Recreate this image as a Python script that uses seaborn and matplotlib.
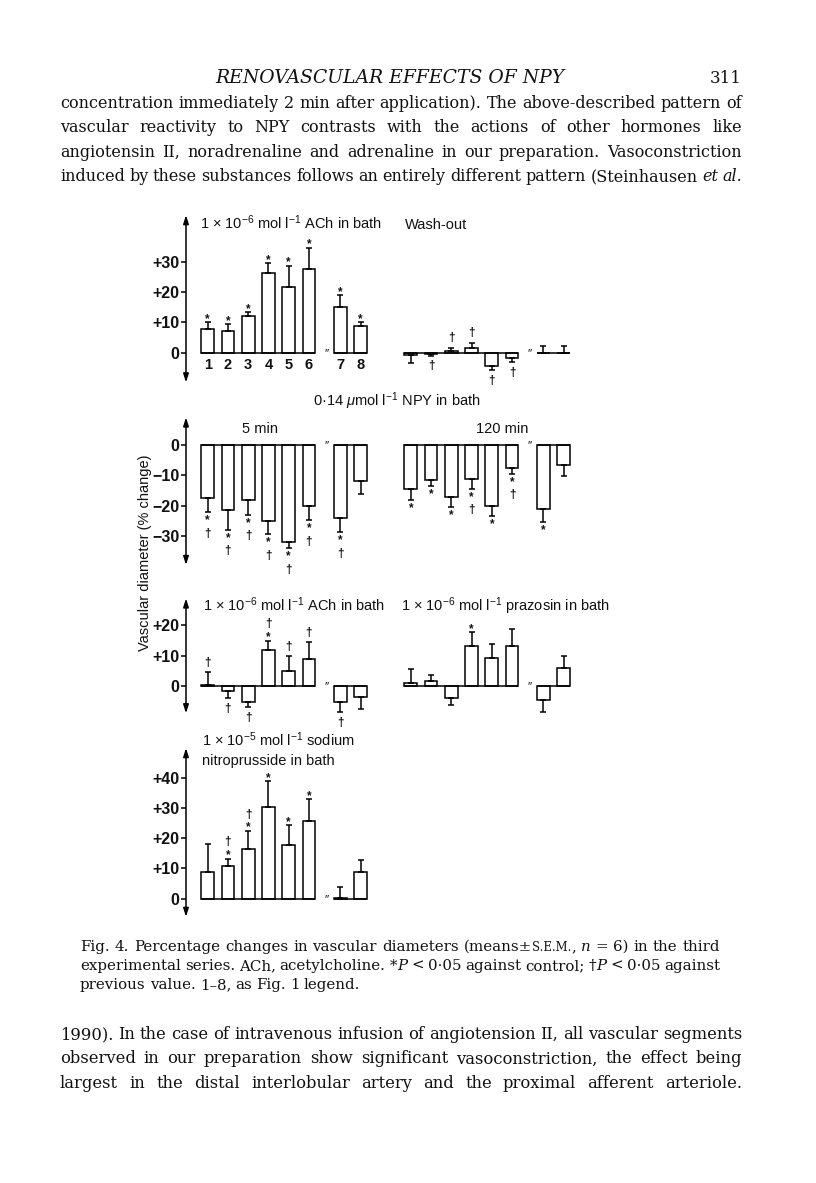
import matplotlib
matplotlib.use("Agg")
import matplotlib.pyplot as plt
from matplotlib.patches import ArrowStyle
import seaborn as sns
import pandas as pd

# values: % change of vascular diameter, mean and s.e.m.
segments = ["1", "2", "3", "4", "5", "6", "7", "8"]

ach_mean = [7.7, 7.2, 12.1, 26.2, 21.6, 27.7, 15.1, 8.9]
ach_sem = [2.3, 2.3, 1.3, 3.3, 7.1, 7.0, 3.9, 1.1]
ach_marks = ["*", "*", "*", "*", "*", "*", "*", "*"]

wash_mean = [-0.9, -0.4, 0.5, 1.7, -4.3, -1.9, 0.0, 0.0]
wash_sem = [2.4, 0.6, 1.1, 1.6, 1.4, 1.3, 2.3, 2.3]
wash_marks = ["", "†", "†", "†", "†", "†", "", ""]

npy5_mean = [-17.6, -21.6, -18.0, -25.1, -32.0, -20.0, -24.1, -12.0]
npy5_sem = [4.6, 6.4, 5.1, 4.4, 2.1, 4.9, 4.7, 4.2]
npy5_marks = ["*†", "*†", "*†", "*†", "*†", "*†", "*†", ""]

npy120_mean = [-14.5, -11.6, -17.1, -11.2, -20.2, -7.6, -21.1, -6.7]
npy120_sem = [3.7, 1.8, 3.5, 3.3, 3.1, 2.0, 4.2, 3.5]
npy120_marks = ["*", "*", "*", "*†", "*", "*†", "*", ""]

ach2_mean = [0.3, -1.5, -5.2, 11.9, 5.0, 8.9, -5.2, -3.7]
ach2_sem = [4.2, 2.6, 1.8, 3.1, 4.9, 5.5, 3.5, 3.9]
ach2_marks = ["†", "†", "†", "*†", "†", "†", "†", ""]

praz_mean = [0.9, 1.6, -4.0, 13.1, 9.1, 13.1, -4.7, 6.0]
praz_sem = [4.7, 2.1, 2.3, 4.6, 4.9, 5.6, 4.0, 3.9]
praz_marks = ["", "", "", "*", "", "", "", ""]

snp_mean = [8.9, 10.9, 16.4, 30.4, 17.7, 25.7, 0.3, 8.7]
snp_sem = [9.1, 2.3, 6.0, 8.3, 6.6, 7.1, 3.5, 4.1]
snp_marks = ["", "*†", "*†", "*", "*", "*", "", ""]

# page text
header = "RENOVASCULAR EFFECTS OF NPY"
page_no = "311"
body_top = [
    "concentration immediately 2 min after application). The above-described pattern of",
    "vascular reactivity to NPY contrasts with the actions of other hormones like",
    "angiotensin II, noradrenaline and adrenaline in our preparation. Vasoconstriction",
    "induced by these substances follows an entirely different pattern (Steinhausen _et al._",
]
caption = [
    "Fig. 4. Percentage changes in vascular diameters (means±^s.e.m.^, _n_ = 6) in the third",
    "experimental series. ACh, acetylcholine. *_P_ < 0·05 against control; †_P_ < 0·05 against",
    "previous value. 1–8, as Fig. 1 legend.",
]
body_bottom = [
    "1990). In the case of intravenous infusion of angiotension II, all vascular segments",
    "observed in our preparation show significant vasoconstriction, the effect being",
    "largest in the distal interlobular artery and the proximal afferent arteriole.",
]

# layout (pixels of the 816 x 1183 page)
W, H = 816, 1183
SLOT = 20.25
PPU = 3.03
AX_LEFT, AX_RIGHT = 186, 620
OFFSETS = [0, 1, 2, 3, 4, 5, 6.55, 7.55]
LEFT_START, RIGHT_START = 1.07, 11.1
BAR_W = 0.627
LW = 1.1
INK = "#111111"

sns.set_theme(style="white")
plt.rcParams["font.family"] = ["Liberation Sans", "DejaVu Sans"]
plt.rcParams["mathtext.fontset"] = "custom"
plt.rcParams["mathtext.rm"] = "Liberation Sans"
plt.rcParams["mathtext.it"] = "Liberation Sans:italic"
plt.rcParams["mathtext.bf"] = "Liberation Sans:bold"
plt.rcParams["text.color"] = INK

fig = plt.figure(figsize=(W / 100, H / 100), dpi=100)
fig.patch.set_facecolor("white")


def ptext(x, y, s, **kw):
    kw.setdefault("fontsize", 10.5)
    return fig.text(x / W, 1 - y / H, s, **kw)


def make_row(zero_px, ylo, yhi):
    top = zero_px - yhi * PPU
    bot = zero_px - ylo * PPU
    ax = fig.add_axes([AX_LEFT / W, 1 - bot / H, (AX_RIGHT - AX_LEFT) / W, (bot - top) / H])
    ax.set_facecolor("none")
    return ax


def finish_row(ax, ylo, yhi, ticks, labels):
    ax.set_xlim(0, (AX_RIGHT - AX_LEFT) / SLOT)
    ax.set_ylim(ylo, yhi)
    for sp in ax.spines.values():
        sp.set_visible(False)
    ax.set_xticks([])
    ax.set_xlabel("")
    ax.set_ylabel("")
    ax.set_yticks(ticks, labels, fontsize=11.5, fontweight="bold")
    ax.tick_params(axis="y", left=True, direction="out", length=3.6, width=LW,
                   pad=1, color="black", labelcolor=INK)
    ax.annotate("", xy=(0, yhi), xytext=(0, ylo),
                arrowprops=dict(arrowstyle=ArrowStyle("<|-|>", head_length=0.5, head_width=0.16),
                                mutation_scale=10, lw=LW, color="black", shrinkA=0, shrinkB=0),
                annotation_clip=False)


def draw_group(ax, start, mean, sem, marks, numbers=False):
    pos = [start + o for o in OFFSETS]
    df = pd.DataFrame({"pos": pos, "change": mean})
    sns.barplot(data=df, x="pos", y="change", native_scale=True, orient="x", width=BAR_W,
                color="white", edgecolor="black", linewidth=LW, errorbar=None, ax=ax)
    lower = [s if m < 0 else 0 for m, s in zip(mean, sem)]
    upper = [s if m >= 0 else 0 for m, s in zip(mean, sem)]
    ax.errorbar(pos, mean, yerr=[lower, upper], fmt="none", ecolor="black",
                elinewidth=LW, capsize=2.5, capthick=LW, zorder=3)
    half = BAR_W / 2
    ax.hlines([0, 0], [pos[0] - half, pos[6] - half], [pos[5] + half, pos[7] + half],
              color="black", lw=LW, zorder=3)
    ax.annotate("″", ((pos[5] + pos[6]) / 2 + 0.08, 0), xytext=(0, -1.5),
                textcoords="offset points", ha="center", va="center", fontsize=8.5)
    # significance marks, stacked outward from the end of the error bar
    for p, m, s, mk in zip(pos, mean, sem, marks):
        if not mk:
            continue
        end = m + s if m >= 0 else m - s
        if m >= 0:
            txt, va = "\n".join(reversed(mk)), "bottom"
            dy = -2.8 if mk[0] == "*" else 3.5
        else:
            txt, va = "\n".join(mk), "top"
            dy = -2.2 if mk[0] == "*" else -4.6
        ax.annotate(txt, (p, end), xytext=(0, dy * 0.72), textcoords="offset points",
                    ha="center", va=va, fontsize=8.5, fontweight="bold",
                    linespacing=1.12, multialignment="center")
    if numbers:
        for p, lab in zip(pos, segments):
            ax.annotate(lab, (p, 0), xytext=(0, -12.5 * 0.72), textcoords="offset points",
                        ha="center", va="center", fontsize=10.5, fontweight="bold")


# row 1: ACh in bath / wash-out
ax1 = make_row(352.7, -9.8, 45.4)
draw_group(ax1, LEFT_START, ach_mean, ach_sem, ach_marks, numbers=True)
draw_group(ax1, RIGHT_START, wash_mean, wash_sem, wash_marks)
finish_row(ax1, -9.8, 45.4, [0, 10, 20, 30], ["0", "+10", "+20", "+30"])

# row 2: NPY 5 min / 120 min
ax2 = make_row(445, -39.6, 9.1)
draw_group(ax2, LEFT_START, npy5_mean, npy5_sem, npy5_marks)
draw_group(ax2, RIGHT_START, npy120_mean, npy120_sem, npy120_marks)
finish_row(ax2, -39.6, 9.1, [0, -10, -20, -30], ["0", "−10", "−20", "−30"])

# row 3: ACh in bath / prazosin in bath
ax3 = make_row(686, -9.0, 28.9)
draw_group(ax3, LEFT_START, ach2_mean, ach2_sem, ach2_marks)
draw_group(ax3, RIGHT_START, praz_mean, praz_sem, praz_marks)
finish_row(ax3, -9.0, 28.9, [0, 10, 20], ["0", "+10", "+20"])

# row 4: sodium nitroprusside
ax4 = make_row(898.7, -6.0, 49.7)
draw_group(ax4, LEFT_START, snp_mean, snp_sem, snp_marks)
finish_row(ax4, -6.0, 49.7, [0, 10, 20, 30, 40], ["0", "+10", "+20", "+30", "+40"])

# panel texts
ptext(200, 229, r"1 × 10$^{-6}$ mol l$^{-1}$ ACh in bath", va="baseline")
ptext(405, 229, "Wash-out", va="baseline")
ptext(397, 406, r"0·14 $\mu$mol l$^{-1}$ NPY in bath", ha="center", va="baseline")
ptext(260, 433, "5 min", ha="center", va="baseline")
ptext(501.7, 433, "120 min", ha="center", va="baseline")
ptext(202.7, 611, r"1 × 10$^{-6}$ mol l$^{-1}$ ACh in bath", va="baseline")
ptext(400.7, 611, r"1 × 10$^{-6}$ mol l$^{-1}$ prazosin in bath", va="baseline")
ptext(202, 746, r"1 × 10$^{-5}$ mol l$^{-1}$ sodium", va="baseline")
ptext(202, 765.5, "nitroprusside in bath", va="baseline")
ptext(145, 553, "Vascular diameter (% change)", rotation=90, ha="center", va="center")


# serif page text, justified word by word
def parse(line):
    words, cur, seg, style = [], [], "", "r"
    for ch in line:
        if ch in "_^":
            if seg:
                cur.append((seg, style))
                seg = ""
            new = "i" if ch == "_" else "sc"
            style = "r" if style == new else new
        elif ch == " ":
            if seg:
                cur.append((seg, style))
                seg = ""
            if cur:
                words.append(cur)
                cur = []
        else:
            seg += ch
    if seg:
        cur.append((seg, style))
    if cur:
        words.append(cur)
    return words


def build_line(line, size, base):
    words = []
    for word in parse(line):
        parts = []
        for s, st in word:
            kw = dict(family="DejaVu Serif", fontsize=size, va="baseline", ha="left")
            if st == "i":
                kw["style"] = "italic"
            if st == "sc":
                s = s.upper()
                kw["fontsize"] = size * 0.78
            parts.append(fig.text(0, 1 - base / H, s, **kw))
        words.append(parts)
    return words


def paragraph(lines, x0, x1, base0, step, justify_last=True, space_em=0.28, size0=10.0):
    r = fig.canvas.get_renderer()
    built = [build_line(l, size0, base0 + step * i) for i, l in enumerate(lines)]
    fits = []
    for i, words in enumerate(built):
        if i == len(lines) - 1 and not justify_last:
            continue
        ww = sum(t.get_window_extent(r).width for parts in words for t in parts)
        nat = ww + (len(words) - 1) * space_em * size0 * 100 / 72
        fits.append(size0 * (x1 - x0) / nat)
    size = min(fits)
    for i, words in enumerate(built):
        for parts in words:
            for t in parts:
                t.set_fontsize(t.get_fontsize() * size / size0)
        widths = [[t.get_window_extent(r).width for t in parts] for parts in words]
        total = sum(sum(w) for w in widths)
        gap = space_em * size * 100 / 72
        if (i < len(lines) - 1 or justify_last) and len(words) > 1:
            gap = (x1 - x0 - total) / (len(words) - 1)
        x = x0
        for parts, w in zip(words, widths):
            dx = 0
            for t, wi in zip(parts, w):
                t.set_x((x + dx) / W)
                dx += wi
            x += dx + gap


ptext(390, 83, header, ha="center", va="baseline", family="DejaVu Serif", style="italic", fontsize=13.5)
ptext(742, 83, page_no, ha="right", va="baseline", family="DejaVu Serif", fontsize=12)
paragraph(body_top, 60, 742, 108, 24.4)
paragraph(caption, 80, 720, 951, 19, justify_last=False)
paragraph(body_bottom, 60, 742, 1039, 24.4)

fig.savefig("out.png", dpi=100, facecolor="white")
